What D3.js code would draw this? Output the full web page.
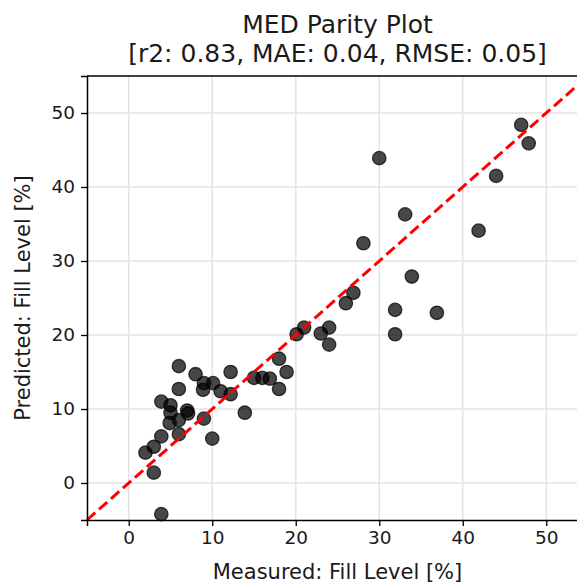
<!DOCTYPE html>
<html>
<head>
<meta charset="utf-8">
<script src="https://cdnjs.cloudflare.com/ajax/libs/d3/7.8.5/d3.min.js"></script>
<style>
  body { margin: 0; background: #fff; }
  svg { display: block; font-family: "DejaVu Sans", sans-serif; }
  .tick text { fill: #1a1a1a; }
</style>
</head>
<body>
<svg class="parity" width="577" height="585"></svg>
<script>
  // measured vs predicted fill level [%]
  const measured = [47.0, 47.9, 44.0, 30.0, 33.1, 41.9, 28.1, 33.9, 26.9, 26.0,
    31.9, 36.9, 31.9, 24.0, 23.0, 24.0, 20.1, 21.0, 18.0, 18.9,
    18.0, 15.0, 16.0, 16.9, 12.2, 12.2, 13.9, 6.0, 8.0, 9.0,
    10.1, 8.9, 11.0, 6.0, 3.9, 5.0, 5.0, 7.0, 7.1, 4.9,
    6.0, 9.0, 6.0, 3.9, 10.0, 3.0, 2.0, 3.0, 3.9];
  const predicted = [48.4, 45.9, 41.5, 43.9, 36.3, 34.1, 32.4, 27.9, 25.7, 24.3,
    23.4, 23.0, 20.1, 21.0, 20.2, 18.7, 20.1, 21.0, 16.8, 15.0,
    12.7, 14.2, 14.2, 14.1, 15.0, 12.0, 9.5, 15.8, 14.7, 13.5,
    13.5, 12.6, 12.4, 12.7, 11.0, 10.5, 9.5, 9.8, 9.4, 8.1,
    8.5, 8.7, 6.6, 6.3, 6.0, 4.9, 4.1, 1.4, -4.2];
  const ticks = [0, 10, 20, 30, 40, 50];
  const axisRange = [-5, 55];
  const titleLines = ['MED Parity Plot', '[r2: 0.83, MAE: 0.04, RMSE: 0.05]'];

  const svg = d3.select('.parity');
  const margin = { top: 76, left: 87, right: 588, bottom: 520 };

  const xScale = d3.scaleLinear().domain(axisRange).range([margin.left, margin.right]);
  const yScale = d3.scaleLinear().domain(axisRange).range([margin.bottom, margin.top]);

  // grid
  const grid = svg.append('g');
  grid.selectAll('.gx').data(ticks).enter().append('line')
    .attr('x1', d => xScale(d)).attr('x2', d => xScale(d))
    .attr('y1', margin.top).attr('y2', margin.bottom)
    .attr('stroke', '#e3e3e3').attr('stroke-width', 1.5);
  grid.selectAll('.gy').data(ticks).enter().append('line')
    .attr('y1', d => yScale(d)).attr('y2', d => yScale(d))
    .attr('x1', margin.left).attr('x2', margin.right)
    .attr('stroke', '#e3e3e3').attr('stroke-width', 1.5);

  // points
  const data = measured.map((m, i) => ({ m: m, p: predicted[i] }));
  svg.append('g').selectAll('circle').data(data)
    .enter().append('circle')
      .attr('cx', d => xScale(d.m))
      .attr('cy', d => yScale(d.p))
      .attr('r', 6.7)
      .attr('fill', '#000')
      .attr('fill-opacity', 0.72)
      .attr('stroke', '#000')
      .attr('stroke-opacity', 0.72)
      .attr('stroke-width', 1.3);

  // identity line
  svg.append('line')
    .attr('x1', xScale(axisRange[0])).attr('y1', yScale(axisRange[0]))
    .attr('x2', xScale(axisRange[1])).attr('y2', yScale(axisRange[1]))
    .attr('stroke', '#ff0000').attr('stroke-width', 3)
    .attr('stroke-dasharray', '11,5');

  // axes
  const xAxis = svg.append('g')
    .attr('transform', `translate(0,${margin.bottom})`)
    .call(d3.axisBottom(xScale).tickValues(ticks).tickSizeOuter(0).tickSize(6).tickPadding(5));
  const yAxis = svg.append('g')
    .attr('transform', `translate(${margin.left},0)`)
    .call(d3.axisLeft(yScale).tickValues(ticks).tickSizeOuter(0).tickSize(6).tickPadding(6));
  [xAxis, yAxis].forEach(a => {
    a.selectAll('text').attr('font-size', 18.5).attr('font-family', '"DejaVu Sans", sans-serif');
    a.selectAll('line').attr('stroke-width', 1.3);
    a.select('.domain').attr('stroke-width', 1.5);
  });
  // top spine
  svg.append('line')
    .attr('x1', margin.left).attr('x2', margin.right)
    .attr('y1', margin.top).attr('y2', margin.top)
    .attr('stroke', '#000').attr('stroke-width', 1.5);

  // labels
  svg.append('text')
    .attr('x', (margin.left + margin.right) / 2).attr('y', 579)
    .attr('text-anchor', 'middle').attr('font-size', 21).attr('fill', '#1a1a1a')
    .text('Measured: Fill Level [%]');
  svg.append('text')
    .attr('transform', `translate(30,${(margin.top + margin.bottom) / 2}) rotate(-90)`)
    .attr('text-anchor', 'middle').attr('font-size', 21).attr('fill', '#1a1a1a')
    .text('Predicted: Fill Level [%]');

  svg.selectAll('.title').data(titleLines).enter().append('text')
    .attr('class', 'title')
    .attr('x', (margin.left + margin.right) / 2)
    .attr('y', (d, i) => 33 + i * 29)
    .attr('text-anchor', 'middle').attr('font-size', 25).attr('fill', '#1a1a1a')
    .text(d => d);
</script>
</body>
</html>
